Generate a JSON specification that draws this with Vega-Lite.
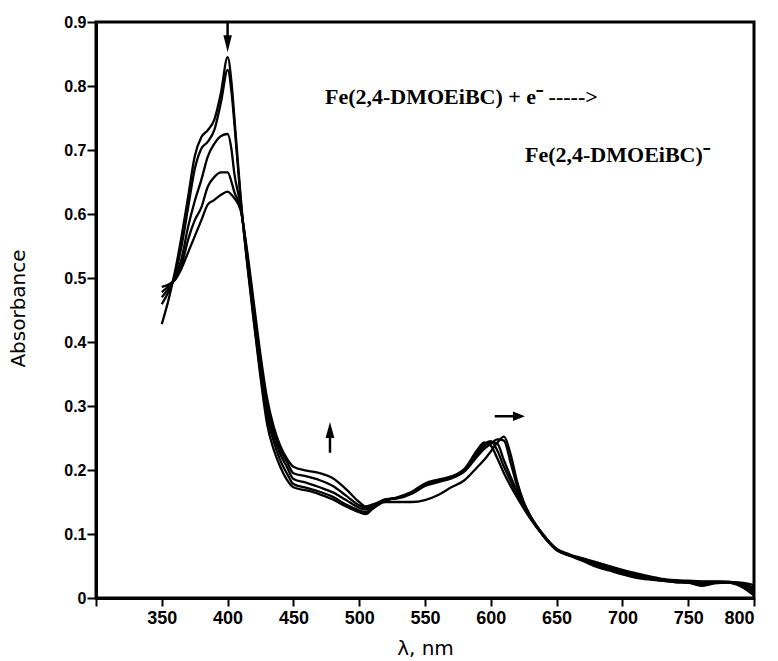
{
  "$schema": "https://vega.github.io/schema/vega-lite/v6.json",
  "width": 658,
  "height": 576,
  "autosize": {"type": "none"},
  "padding": {"left": 96, "top": 22, "right": 24, "bottom": 63},
  "background": "white",
  "config": {
    "view": {"stroke": "black", "strokeWidth": 3},
    "axis": {
      "grid": false,
      "domainColor": "black",
      "domainWidth": 3,
      "tickColor": "black",
      "tickWidth": 2,
      "labelColor": "black",
      "titleColor": "black",
      "labelFont": "Liberation Sans Narrow, Liberation Sans, sans-serif",
      "labelFontWeight": "bold",
      "titleFont": "DejaVu Sans",
      "titleFontWeight": "normal",
      "titleFontSize": 20
    }
  },
  "datasets": {
    "curves": [
      {"w":350,"a":0.428,"s":"1"},{"w":355,"a":0.465,"s":"1"},{"w":360,"a":0.510,"s":"1"},{"w":365,"a":0.565,"s":"1"},{"w":370,"a":0.627,"s":"1"},{"w":375,"a":0.690,"s":"1"},{"w":380,"a":0.720,"s":"1"},{"w":385,"a":0.731,"s":"1"},{"w":390,"a":0.748,"s":"1"},{"w":395,"a":0.790,"s":"1"},{"w":400,"a":0.845,"s":"1"},{"w":403,"a":0.805,"s":"1"},{"w":405,"a":0.755,"s":"1"},{"w":410,"a":0.625,"s":"1"},{"w":415,"a":0.520,"s":"1"},{"w":420,"a":0.430,"s":"1"},{"w":425,"a":0.345,"s":"1"},{"w":430,"a":0.272,"s":"1"},{"w":435,"a":0.232,"s":"1"},{"w":440,"a":0.205,"s":"1"},{"w":445,"a":0.185,"s":"1"},{"w":450,"a":0.173,"s":"1"},{"w":460,"a":0.168,"s":"1"},{"w":470,"a":0.162,"s":"1"},{"w":480,"a":0.154,"s":"1"},{"w":490,"a":0.143,"s":"1"},{"w":500,"a":0.134,"s":"1"},{"w":505,"a":0.131,"s":"1"},{"w":510,"a":0.139,"s":"1"},{"w":520,"a":0.152,"s":"1"},{"w":530,"a":0.158,"s":"1"},{"w":540,"a":0.166,"s":"1"},{"w":550,"a":0.179,"s":"1"},{"w":560,"a":0.185,"s":"1"},{"w":570,"a":0.190,"s":"1"},{"w":580,"a":0.202,"s":"1"},{"w":590,"a":0.232,"s":"1"},{"w":595,"a":0.243,"s":"1"},{"w":600,"a":0.238,"s":"1"},{"w":605,"a":0.218,"s":"1"},{"w":610,"a":0.195,"s":"1"},{"w":615,"a":0.175,"s":"1"},{"w":620,"a":0.157,"s":"1"},{"w":625,"a":0.140,"s":"1"},{"w":630,"a":0.124,"s":"1"},{"w":640,"a":0.097,"s":"1"},{"w":650,"a":0.075,"s":"1"},{"w":660,"a":0.066,"s":"1"},{"w":670,"a":0.058,"s":"1"},{"w":680,"a":0.049,"s":"1"},{"w":690,"a":0.043,"s":"1"},{"w":700,"a":0.037,"s":"1"},{"w":710,"a":0.032,"s":"1"},{"w":720,"a":0.029,"s":"1"},{"w":730,"a":0.027,"s":"1"},{"w":740,"a":0.025,"s":"1"},{"w":750,"a":0.024,"s":"1"},{"w":760,"a":0.019,"s":"1"},{"w":770,"a":0.023,"s":"1"},{"w":780,"a":0.024,"s":"1"},{"w":790,"a":0.018,"s":"1"},{"w":800,"a":0.004,"s":"1"},

      {"w":350,"a":0.459,"s":"2"},{"w":355,"a":0.478,"s":"2"},{"w":360,"a":0.505,"s":"2"},{"w":365,"a":0.550,"s":"2"},{"w":370,"a":0.610,"s":"2"},{"w":375,"a":0.670,"s":"2"},{"w":380,"a":0.702,"s":"2"},{"w":385,"a":0.713,"s":"2"},{"w":390,"a":0.732,"s":"2"},{"w":395,"a":0.775,"s":"2"},{"w":400,"a":0.825,"s":"2"},{"w":403,"a":0.790,"s":"2"},{"w":405,"a":0.745,"s":"2"},{"w":410,"a":0.620,"s":"2"},{"w":415,"a":0.522,"s":"2"},{"w":420,"a":0.435,"s":"2"},{"w":425,"a":0.352,"s":"2"},{"w":430,"a":0.285,"s":"2"},{"w":435,"a":0.245,"s":"2"},{"w":440,"a":0.215,"s":"2"},{"w":445,"a":0.195,"s":"2"},{"w":450,"a":0.178,"s":"2"},{"w":460,"a":0.172,"s":"2"},{"w":470,"a":0.166,"s":"2"},{"w":480,"a":0.158,"s":"2"},{"w":490,"a":0.146,"s":"2"},{"w":500,"a":0.137,"s":"2"},{"w":505,"a":0.134,"s":"2"},{"w":510,"a":0.141,"s":"2"},{"w":520,"a":0.153,"s":"2"},{"w":530,"a":0.157,"s":"2"},{"w":540,"a":0.165,"s":"2"},{"w":550,"a":0.178,"s":"2"},{"w":560,"a":0.184,"s":"2"},{"w":570,"a":0.189,"s":"2"},{"w":580,"a":0.200,"s":"2"},{"w":590,"a":0.229,"s":"2"},{"w":595,"a":0.240,"s":"2"},{"w":600,"a":0.245,"s":"2"},{"w":605,"a":0.230,"s":"2"},{"w":610,"a":0.205,"s":"2"},{"w":615,"a":0.183,"s":"2"},{"w":620,"a":0.162,"s":"2"},{"w":625,"a":0.143,"s":"2"},{"w":630,"a":0.126,"s":"2"},{"w":640,"a":0.097,"s":"2"},{"w":650,"a":0.075,"s":"2"},{"w":660,"a":0.066,"s":"2"},{"w":670,"a":0.059,"s":"2"},{"w":680,"a":0.051,"s":"2"},{"w":690,"a":0.045,"s":"2"},{"w":700,"a":0.038,"s":"2"},{"w":710,"a":0.033,"s":"2"},{"w":720,"a":0.030,"s":"2"},{"w":730,"a":0.027,"s":"2"},{"w":740,"a":0.025,"s":"2"},{"w":750,"a":0.024,"s":"2"},{"w":760,"a":0.021,"s":"2"},{"w":770,"a":0.024,"s":"2"},{"w":780,"a":0.024,"s":"2"},{"w":790,"a":0.020,"s":"2"},{"w":800,"a":0.008,"s":"2"},

      {"w":350,"a":0.470,"s":"3"},{"w":355,"a":0.483,"s":"3"},{"w":360,"a":0.500,"s":"3"},{"w":365,"a":0.530,"s":"3"},{"w":370,"a":0.580,"s":"3"},{"w":375,"a":0.620,"s":"3"},{"w":380,"a":0.653,"s":"3"},{"w":385,"a":0.690,"s":"3"},{"w":390,"a":0.710,"s":"3"},{"w":395,"a":0.722,"s":"3"},{"w":400,"a":0.725,"s":"3"},{"w":403,"a":0.700,"s":"3"},{"w":405,"a":0.665,"s":"3"},{"w":410,"a":0.612,"s":"3"},{"w":415,"a":0.528,"s":"3"},{"w":420,"a":0.445,"s":"3"},{"w":425,"a":0.362,"s":"3"},{"w":430,"a":0.295,"s":"3"},{"w":435,"a":0.255,"s":"3"},{"w":440,"a":0.225,"s":"3"},{"w":445,"a":0.205,"s":"3"},{"w":450,"a":0.186,"s":"3"},{"w":460,"a":0.180,"s":"3"},{"w":470,"a":0.173,"s":"3"},{"w":480,"a":0.165,"s":"3"},{"w":490,"a":0.153,"s":"3"},{"w":500,"a":0.141,"s":"3"},{"w":505,"a":0.138,"s":"3"},{"w":510,"a":0.143,"s":"3"},{"w":520,"a":0.154,"s":"3"},{"w":530,"a":0.157,"s":"3"},{"w":540,"a":0.164,"s":"3"},{"w":550,"a":0.177,"s":"3"},{"w":560,"a":0.183,"s":"3"},{"w":570,"a":0.188,"s":"3"},{"w":580,"a":0.199,"s":"3"},{"w":590,"a":0.226,"s":"3"},{"w":595,"a":0.237,"s":"3"},{"w":600,"a":0.244,"s":"3"},{"w":605,"a":0.241,"s":"3"},{"w":610,"a":0.215,"s":"3"},{"w":615,"a":0.190,"s":"3"},{"w":620,"a":0.167,"s":"3"},{"w":625,"a":0.146,"s":"3"},{"w":630,"a":0.127,"s":"3"},{"w":640,"a":0.097,"s":"3"},{"w":650,"a":0.076,"s":"3"},{"w":660,"a":0.067,"s":"3"},{"w":670,"a":0.060,"s":"3"},{"w":680,"a":0.053,"s":"3"},{"w":690,"a":0.047,"s":"3"},{"w":700,"a":0.040,"s":"3"},{"w":710,"a":0.035,"s":"3"},{"w":720,"a":0.031,"s":"3"},{"w":730,"a":0.028,"s":"3"},{"w":740,"a":0.026,"s":"3"},{"w":750,"a":0.025,"s":"3"},{"w":760,"a":0.023,"s":"3"},{"w":770,"a":0.025,"s":"3"},{"w":780,"a":0.025,"s":"3"},{"w":790,"a":0.022,"s":"3"},{"w":800,"a":0.012,"s":"3"},

      {"w":350,"a":0.478,"s":"4"},{"w":355,"a":0.487,"s":"4"},{"w":360,"a":0.498,"s":"4"},{"w":365,"a":0.520,"s":"4"},{"w":370,"a":0.560,"s":"4"},{"w":375,"a":0.590,"s":"4"},{"w":380,"a":0.610,"s":"4"},{"w":385,"a":0.643,"s":"4"},{"w":390,"a":0.658,"s":"4"},{"w":395,"a":0.665,"s":"4"},{"w":400,"a":0.665,"s":"4"},{"w":403,"a":0.650,"s":"4"},{"w":405,"a":0.635,"s":"4"},{"w":410,"a":0.608,"s":"4"},{"w":415,"a":0.535,"s":"4"},{"w":420,"a":0.452,"s":"4"},{"w":425,"a":0.370,"s":"4"},{"w":430,"a":0.302,"s":"4"},{"w":435,"a":0.262,"s":"4"},{"w":440,"a":0.232,"s":"4"},{"w":445,"a":0.213,"s":"4"},{"w":450,"a":0.195,"s":"4"},{"w":460,"a":0.190,"s":"4"},{"w":470,"a":0.184,"s":"4"},{"w":480,"a":0.175,"s":"4"},{"w":490,"a":0.160,"s":"4"},{"w":500,"a":0.145,"s":"4"},{"w":505,"a":0.141,"s":"4"},{"w":510,"a":0.145,"s":"4"},{"w":520,"a":0.154,"s":"4"},{"w":530,"a":0.156,"s":"4"},{"w":540,"a":0.163,"s":"4"},{"w":550,"a":0.175,"s":"4"},{"w":560,"a":0.181,"s":"4"},{"w":570,"a":0.187,"s":"4"},{"w":580,"a":0.198,"s":"4"},{"w":590,"a":0.222,"s":"4"},{"w":595,"a":0.233,"s":"4"},{"w":600,"a":0.241,"s":"4"},{"w":605,"a":0.248,"s":"4"},{"w":610,"a":0.246,"s":"4"},{"w":615,"a":0.212,"s":"4"},{"w":620,"a":0.175,"s":"4"},{"w":625,"a":0.148,"s":"4"},{"w":630,"a":0.128,"s":"4"},{"w":640,"a":0.098,"s":"4"},{"w":650,"a":0.076,"s":"4"},{"w":660,"a":0.067,"s":"4"},{"w":670,"a":0.061,"s":"4"},{"w":680,"a":0.055,"s":"4"},{"w":690,"a":0.049,"s":"4"},{"w":700,"a":0.042,"s":"4"},{"w":710,"a":0.037,"s":"4"},{"w":720,"a":0.033,"s":"4"},{"w":730,"a":0.029,"s":"4"},{"w":740,"a":0.027,"s":"4"},{"w":750,"a":0.026,"s":"4"},{"w":760,"a":0.025,"s":"4"},{"w":770,"a":0.025,"s":"4"},{"w":780,"a":0.025,"s":"4"},{"w":790,"a":0.023,"s":"4"},{"w":800,"a":0.016,"s":"4"},

      {"w":350,"a":0.486,"s":"5"},{"w":355,"a":0.490,"s":"5"},{"w":360,"a":0.497,"s":"5"},{"w":365,"a":0.515,"s":"5"},{"w":370,"a":0.540,"s":"5"},{"w":375,"a":0.565,"s":"5"},{"w":380,"a":0.590,"s":"5"},{"w":385,"a":0.615,"s":"5"},{"w":390,"a":0.622,"s":"5"},{"w":395,"a":0.630,"s":"5"},{"w":400,"a":0.635,"s":"5"},{"w":403,"a":0.630,"s":"5"},{"w":405,"a":0.625,"s":"5"},{"w":410,"a":0.605,"s":"5"},{"w":415,"a":0.540,"s":"5"},{"w":420,"a":0.460,"s":"5"},{"w":425,"a":0.380,"s":"5"},{"w":430,"a":0.312,"s":"5"},{"w":435,"a":0.268,"s":"5"},{"w":440,"a":0.238,"s":"5"},{"w":445,"a":0.218,"s":"5"},{"w":450,"a":0.205,"s":"5"},{"w":460,"a":0.199,"s":"5"},{"w":470,"a":0.195,"s":"5"},{"w":480,"a":0.187,"s":"5"},{"w":490,"a":0.170,"s":"5"},{"w":500,"a":0.150,"s":"5"},{"w":505,"a":0.143,"s":"5"},{"w":510,"a":0.146,"s":"5"},{"w":520,"a":0.150,"s":"5"},{"w":530,"a":0.150,"s":"5"},{"w":540,"a":0.150,"s":"5"},{"w":550,"a":0.153,"s":"5"},{"w":560,"a":0.161,"s":"5"},{"w":570,"a":0.173,"s":"5"},{"w":580,"a":0.184,"s":"5"},{"w":590,"a":0.205,"s":"5"},{"w":595,"a":0.216,"s":"5"},{"w":600,"a":0.229,"s":"5"},{"w":605,"a":0.243,"s":"5"},{"w":610,"a":0.252,"s":"5"},{"w":615,"a":0.225,"s":"5"},{"w":620,"a":0.182,"s":"5"},{"w":625,"a":0.150,"s":"5"},{"w":630,"a":0.129,"s":"5"},{"w":640,"a":0.099,"s":"5"},{"w":650,"a":0.077,"s":"5"},{"w":660,"a":0.068,"s":"5"},{"w":670,"a":0.062,"s":"5"},{"w":680,"a":0.056,"s":"5"},{"w":690,"a":0.050,"s":"5"},{"w":700,"a":0.044,"s":"5"},{"w":710,"a":0.039,"s":"5"},{"w":720,"a":0.034,"s":"5"},{"w":730,"a":0.030,"s":"5"},{"w":740,"a":0.028,"s":"5"},{"w":750,"a":0.027,"s":"5"},{"w":760,"a":0.026,"s":"5"},{"w":770,"a":0.026,"s":"5"},{"w":780,"a":0.025,"s":"5"},{"w":790,"a":0.024,"s":"5"},{"w":800,"a":0.020,"s":"5"}
    ],
    "shafts": [
      {"w":400,"a":0.900,"w2":400,"a2":0.866},
      {"w":477.8,"a":0.262,"w2":477.8,"a2":0.227},
      {"w":603,"a":0.284,"w2":621,"a2":0.284}
    ],
    "labels": [
      {"w":474,"a":0.783,"t":"Fe(2,4-DMOEiBC) + e⁻ ----->"},
      {"w":626,"a":0.692,"t":"Fe(2,4-DMOEiBC)⁻"}
    ]
  },
  "encoding": {
    "x": {
      "field": "w", "type": "quantitative",
      "scale": {"domain": [300, 800], "nice": false, "zero": false},
      "axis": {
        "title": "λ, nm",
        "values": [300, 350, 400, 450, 500, 550, 600, 650, 700, 750, 800],
        "labelExpr": "datum.value == 300 ? '' : datum.label",
        "labelFontSize": 18,
        "tickSize": 8,
        "labelPadding": 3,
        "titleY": 50,
        "titleBaseline": "middle"
      }
    },
    "y": {
      "field": "a", "type": "quantitative",
      "scale": {"domain": [0, 0.9], "nice": false},
      "axis": {
        "title": "Absorbance",
        "values": [0, 0.1, 0.2, 0.3, 0.4, 0.5, 0.6, 0.7, 0.8, 0.9],
        "format": ".1~f",
        "labelFontSize": 16,
        "tickSize": 9,
        "labelPadding": 1,
        "titleX": -78,
        "titleY": 286,
        "titleAngle": -90,
        "titleBaseline": "middle"
      }
    }
  },
  "layer": [
    {
      "data": {"name": "curves"},
      "mark": {"type": "line", "color": "black", "strokeWidth": 2.3, "interpolate": "monotone"},
      "encoding": {"detail": {"field": "s", "type": "nominal"}}
    },
    {
      "data": {"name": "shafts"},
      "mark": {"type": "rule", "color": "black", "strokeWidth": 2.5},
      "encoding": {"x2": {"field": "w2"}, "y2": {"field": "a2"}}
    },
    {
      "data": {"values": [{"w": 400, "a": 0.866}]},
      "mark": {"type": "point", "shape": "M-0.5,-1L0.5,-1L0,1Z", "size": 289, "filled": true, "color": "black", "opacity": 1}
    },
    {
      "data": {"values": [{"w": 477.8, "a": 0.2625}]},
      "mark": {"type": "point", "shape": "M-0.55,1L0.55,1L0,-1Z", "size": 256, "filled": true, "color": "black", "opacity": 1}
    },
    {
      "data": {"values": [{"w": 621.4, "a": 0.284}]},
      "mark": {"type": "point", "shape": "M-1,-0.8L1,0L-1,0.8Z", "size": 144, "filled": true, "color": "black", "opacity": 1}
    },
    {
      "data": {"name": "labels"},
      "mark": {"type": "text", "align": "left", "baseline": "middle", "font": "Liberation Serif", "fontWeight": "bold", "fontSize": 22, "color": "black"},
      "encoding": {"text": {"field": "t", "type": "nominal"}}
    }
  ]
}
